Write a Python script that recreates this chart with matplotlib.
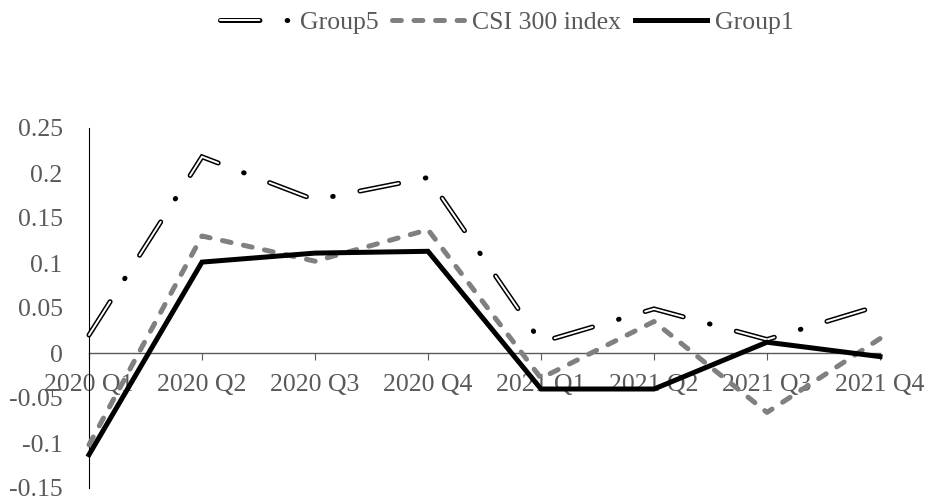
import matplotlib
matplotlib.use("Agg")
from matplotlib import pyplot as plt
from matplotlib.legend_handler import HandlerTuple
from matplotlib.lines import Line2D

plt.rcParams['font.family'] = ['Liberation Serif', 'DejaVu Serif']
plt.rcParams['lines.scale_dashes'] = False

# quarterly returns
quarters = ['2020 Q1', '2020 Q2', '2020 Q3', '2020 Q4',
            '2021 Q1', '2021 Q2', '2021 Q3', '2021 Q4']
group5 = [0.020, 0.218, 0.170, 0.195, 0.012, 0.049, 0.015, 0.053]
csi300 = [-0.102, 0.130, 0.102, 0.137, -0.028, 0.035, -0.066, 0.016]
group1 = [-0.113, 0.101, 0.111, 0.113, -0.040, -0.040, 0.012, -0.004]

y_ticks = [-0.15, -0.1, -0.05, 0, 0.05, 0.1, 0.15, 0.2, 0.25]
y_labels = ['-0.15', '-0.1', '-0.05', '0', '0.05', '0.1', '0.15', '0.2', '0.25']

txt_color = '#595959'
fs = 18.5

fig = plt.figure(figsize=(9.3, 4.96), dpi=100)
ax = fig.add_axes([89/930, 1-488/496, (880-89)/930, (488-128)/496])

x = list(range(len(quarters)))

# Group5 : outlined dash + solid dot (black wide line, white thin line on the dashes only)
lw_out, lw_in = 3.6, 1.4
dash, gap, dot = 32 - lw_out, 16 + lw_out, 0.4
g5_out = (0, (dash, gap, dot, gap))
g5_in = (0, (dash, gap + dot + gap))
l5a, = ax.plot(x, group5, color='black', lw=lw_out, linestyle=g5_out,
               dash_capstyle='round', dash_joinstyle='miter', clip_on=False, zorder=3)
l5b, = ax.plot(x, group5, color='white', lw=lw_in, linestyle=g5_in,
               dash_capstyle='round', dash_joinstyle='miter', clip_on=False, zorder=3.1)

lw_c = 3.6
csi_ls = (0, (10 - lw_c, 5.5 + lw_c))
lc, = ax.plot(x, csi300, color='#808080', lw=lw_c, linestyle=csi_ls,
              dash_capstyle='round', clip_on=False, zorder=4)
l1, = ax.plot(x, group1, color='black', lw=3.6, solid_joinstyle='miter',
              clip_on=False, zorder=5)

ax.set_xlim(0, len(quarters) - 1)
ax.set_ylim(-0.15, 0.25)
ax.set_xticks(x)
ax.set_xticklabels(quarters)
ax.set_yticks(y_ticks)
ax.set_yticklabels(y_labels)

for s in ['top', 'right']:
    ax.spines[s].set_visible(False)
ax.spines['left'].set_color('black')
ax.spines['left'].set_linewidth(0.8)
ax.spines['bottom'].set_position(('data', 0))
ax.spines['bottom'].set_color(txt_color)
ax.spines['bottom'].set_linewidth(1.0)
ax.spines['bottom'].set_zorder(1)

ax.tick_params(axis='x', direction='out', length=5, width=0.8, color=txt_color,
               pad=10, labelsize=fs, labelcolor=txt_color)
ax.tick_params(axis='y', length=0, pad=19, labelsize=fs, labelcolor=txt_color)
ax.patch.set_visible(False)

# legend proxies
h5a = Line2D([], [], color='black', lw=lw_out, linestyle=g5_out, dash_capstyle='round')
h5b = Line2D([], [], color='white', lw=lw_in, linestyle=g5_in, dash_capstyle='round')
hc = Line2D([], [], color='#808080', lw=lw_c, linestyle=csi_ls, dash_capstyle='round')
h1 = Line2D([], [], color='black', lw=3.6)
leg = fig.legend([(h5a, h5b), hc, h1], ['Group5', 'CSI 300 index', 'Group1'],
                 handler_map={tuple: HandlerTuple(ndivide=1, pad=0)},
                 loc='center', bbox_to_anchor=(0.545, 0.955), ncol=3, frameon=False,
                 fontsize=fs, handlelength=2.8, handletextpad=0.3, columnspacing=0.55,
                 labelcolor=txt_color)

fig.savefig('out.png', dpi=100)
